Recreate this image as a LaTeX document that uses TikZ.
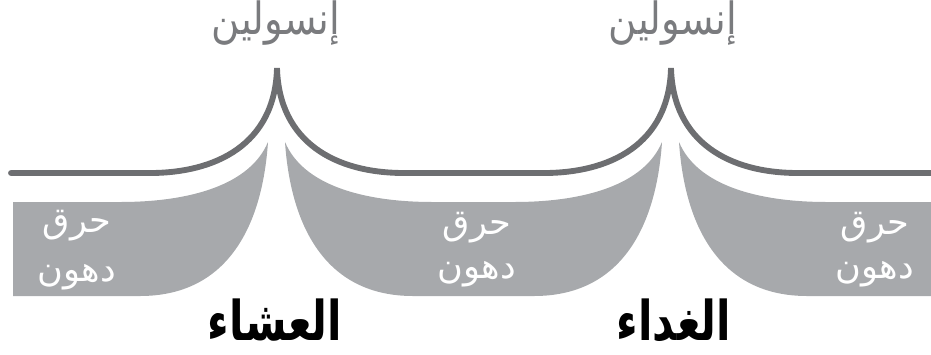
\documentclass[tikz,border=0pt]{standalone}
\usepackage{fontspec}
\newfontfamily\arabicfont[Script=Arabic]{DejaVu Sans}
\TeXXeTstate=1
\definecolor{linegray}{HTML}{6D6E71}
\definecolor{fillgray}{HTML}{A7A9AC}
\definecolor{textgray}{HTML}{7A7B7E}
\newcommand{\artext}[2][1]{\scalebox{1}[#1]{\beginR #2\endR}}
\tikzset{
  insulinline/.style={draw=linegray, line width=5pt, line cap=round},
  burnarea/.style={fill=fillgray, draw=none},
  insulinlabel/.style={text=textgray, font=\arabicfont\fontsize{33}{38}\selectfont, inner sep=0pt},
  burnlabel/.style={text=white, font=\arabicfont\fontsize{30}{34}\selectfont, inner sep=0pt},
  meallabel/.style={text=black, font=\arabicfont\bfseries\fontsize{36}{42}\selectfont, inner sep=0pt}
}
\begin{document}
\begin{tikzpicture}[x=0.3mm, y=-0.3mm]
\useasboundingbox (0,0) rectangle (931,354);
% fat burning areas
\path[burnarea] (13,202) -- (120,202) .. controls (190,202) and (250,185) .. (268,142)
  .. controls (262,230) and (225,296) .. (140,296) -- (13,296) -- cycle;
\path[burnarea] (285,142) .. controls (303,185) and (363,202) .. (433,202) -- (514,202)
  .. controls (584,202) and (644,185) .. (662,142)
  .. controls (656,230) and (619,296) .. (534,296) -- (413,296)
  .. controls (328,296) and (291,230) .. (285,142) -- cycle;
\path[burnarea] (679,142) .. controls (697,185) and (757,202) .. (827,202) -- (931,202)
  -- (931,296) -- (807,296) .. controls (722,296) and (685,230) .. (679,142) -- cycle;
% insulin curve
\coordinate (start) at (11,173);
\coordinate (p1) at (277,68);
\coordinate (p2) at (671,68);
\coordinate (end) at (931,173);
\draw[insulinline] (start) -- (150,173) .. controls (215,173) and (275,145) .. (p1)
  .. controls (279,142) and (335,173) .. (404,173) -- (544,173)
  .. controls (609,173) and (669,145) .. (p2)
  .. controls (673,142) and (729,173) .. (798,173) -- (end);
% labels
\node[insulinlabel] (ins1) at (276,23) {\artext[1.15]{إنسولين}};
\node[insulinlabel] (ins2) at (673,23) {\artext[1.15]{إنسولين}};
\node[burnlabel] (b1a) at (77,226) {\artext{حرق}};
\node[burnlabel] (b1b) at (77,277) {\artext{دهون}};
\node[burnlabel] (b2a) at (477,228) {\artext{حرق}};
\node[burnlabel] (b2b) at (477,274) {\artext{دهون}};
\node[burnlabel] (b3a) at (875,228) {\artext{حرق}};
\node[burnlabel] (b3b) at (875,274) {\artext{دهون}};
\node[meallabel] (dinner) at (275,320) {\artext[1.3]{العشاء}};
\node[meallabel] (lunch) at (674,320) {\artext[1.3]{الغداء}};
\end{tikzpicture}
\end{document}
